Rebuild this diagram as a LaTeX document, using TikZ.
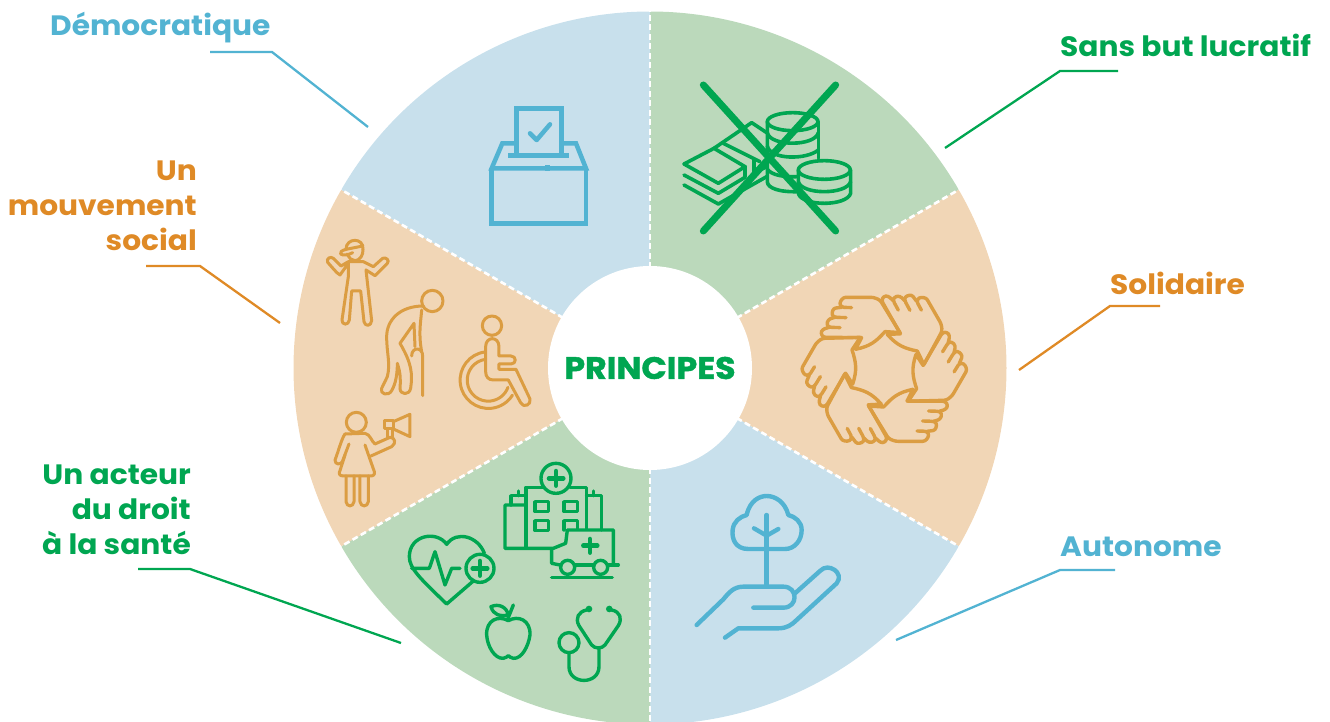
\documentclass[tikz,border=0pt]{standalone}
\usepackage{fontspec}
\setmainfont{Poppins}[FakeStretch=1.06]
\newfontfamily\centrefont{Poppins}[FakeStretch=1.07, BoldFeatures={FakeBold=1.4}]
\definecolor{secblue}{HTML}{C8E0EC}
\definecolor{secgreen}{HTML}{BBD9BB}
\definecolor{secorange}{HTML}{F1D6B6}
\definecolor{lineblue}{HTML}{52B3D2}
\definecolor{linegreen}{HTML}{00A651}
\definecolor{lineorange}{HTML}{DF8A26}
\definecolor{iconorange}{HTML}{DB9D42}
\tikzset{
  lbl/.style={font=\fontsize{28}{35}\selectfont\bfseries, inner sep=0pt, align=right},
  leader/.style={line width=2.3pt},
  icon/.style={line width=#1, line cap=round, line join=round},
  icon/.default=3pt,
  zoomed/.style={x=0.3333pt, y=-0.3333pt},
}

\begin{document}
\begin{tikzpicture}[x=1pt, y=-1pt]
  \useasboundingbox (0,0) rectangle (1330,722);

  % Wheel
  \begin{scope}[shift={(650,368)}]
    \foreach \a/\col in {-90/secgreen, -30/secorange, 30/secblue, 90/secgreen, 150/secorange, 210/secblue} {
      \fill[\col] (0,0) -- (\a:356.5) arc[start angle=\a, end angle=\a+60, radius=356.5] -- cycle;
    }
    \foreach \a in {-90, -30, 30, 90, 150, 210} {
      \draw[white, line width=2.6pt, dash pattern=on 6pt off 3.5pt] (\a:100) -- (\a:357);
    }
  \end{scope}
  \node[circle, fill=white, minimum size=204pt, inner sep=0pt, text=linegreen,
        font=\fontsize{31}{36}\selectfont\centrefont\bfseries] (centre) at (650,368) {PRINCIPES};

  % Labels
  \node[lbl, text=lineblue, anchor=base west] (democratique) at (50,36) {Démocratique};
  \node[lbl, text=linegreen, anchor=base west] (sansbut) at (1060,57) {Sans but lucratif};
  \node[lbl, text=lineorange, anchor=east] (mouvement) at (197,206) {Un\\mouvement\\social};
  \node[lbl, text=lineorange, anchor=base west] (solidaire) at (1110,294) {Solidaire};
  \node[lbl, text=linegreen, anchor=east] (acteur) at (191,510) {Un acteur\\du droit\\à la santé};
  \node[lbl, text=lineblue, anchor=base west] (autonome) at (1060,556) {Autonome};

  % Leader lines
  \coordinate (demoA) at (210,52);
  \coordinate (demoB) at (272,52);
  \coordinate (demoC) at (368,127);
  \coordinate (sansA) at (1118,71);
  \coordinate (sansB) at (1060,71);
  \coordinate (sansC) at (945,148);
  \coordinate (mouvA) at (146,266);
  \coordinate (mouvB) at (200,266);
  \coordinate (mouvC) at (280,323);
  \coordinate (soliA) at (1160,306);
  \coordinate (soliB) at (1110,306);
  \coordinate (soliC) at (1019,370);
  \coordinate (acteA) at (138,569);
  \coordinate (acteB) at (190,569);
  \coordinate (acteC) at (401,643);
  \coordinate (autoA) at (1115,570);
  \coordinate (autoB) at (1060,570);
  \coordinate (autoC) at (896,640);
  \draw[leader, lineblue] (demoA) -- (demoB) -- (demoC);
  \draw[leader, linegreen] (sansA) -- (sansB) -- (sansC);
  \draw[leader, lineorange] (mouvA) -- (mouvB) -- (mouvC);
  \draw[leader, lineorange] (soliA) -- (soliB) -- (soliC);
  \draw[leader, linegreen] (acteA) -- (acteB) -- (acteC);
  \draw[leader, lineblue] (autoA) -- (autoB) -- (autoC);

  % Ballot box
  \begin{scope}[shift={(470,90)}, zoomed, icon=4.5pt, lineblue, line cap=butt, line join=miter]
    \draw (139,190) -- (139,55) -- (274,55) -- (274,190);
    \draw (115,197) -- (298,197);
    \draw (139,160) -- (97,160) -- (65,235) -- (348,235) -- (318,160) -- (274,160);
    \draw (65,235) -- (65,400) -- (348,400) -- (348,235);
    \draw (232,226) -- (232,243);
    \draw[line cap=round, line join=round] (180,130) -- (200,150) -- (240,103);
  \end{scope}

  % Money and coins
  \begin{scope}[shift={(660,60)}, zoomed, icon=3.6pt, linegreen]
    \draw (398,185) ellipse (76 and 27);
    \draw (322,185) -- (322,365) .. controls (322,385) and (360,397) .. (415,395);
    \draw (475,185) -- (475,295);
    \draw (322,218) .. controls (330,260) and (465,260) .. (475,218);
    \draw (322,258) .. controls (330,300) and (440,300) .. (475,270);
    \draw (322,328) .. controls (335,345) and (370,352) .. (415,350);
    \draw (493,330) ellipse (78 and 28);
    \draw (415,330) -- (415,400) .. controls (425,440) and (560,440) .. (572,400) -- (572,330);
    \draw (415,365) .. controls (425,405) and (560,405) .. (572,365);
    \draw (72,312) -- (162,265) -- (255,320) -- (175,370) -- cycle;
    \draw (162,265) -- (275,188) -- (320,218);
    \draw (190,250) -- (300,305);
    \draw (255,320) -- (255,350);
    \draw (282,300) -- (282,340) -- (320,320);
    \draw (72,345) -- (175,400) -- (255,352);
    \draw (72,375) -- (175,432) -- (320,350);
    \draw[line width=7pt] (130,75) -- (527,513);
    \draw[line width=7pt] (527,75) -- (130,513);
  \end{scope}

  % Hands
  \foreach \r in {0,60,...,300} {
    \begin{scope}[shift={(884.3,369.3)}, rotate=\r, icon=3.4pt, iconorange, rounded corners=2.5pt]
      \draw (15.7,-36.7) -- (-4.3,-69.3) -- (-11,-72) -- (-41,-72) -- (-45,-66) -- (-42.7,-62) -- (-32.7,-61.7);
      \draw (-42.7,-62) -- (-51,-61) -- (-52.7,-54) -- (-49.3,-52) -- (-38.3,-51.7);
      \draw (-49.3,-52) -- (-56,-50) -- (-57.7,-44.3) -- (-55,-42) -- (-44.3,-41.7);
      \draw (-55,-42) -- (-61.7,-40) -- (-63.7,-36) -- (-61,-32) -- (-22.7,-31.7);
      \draw[sharp corners] (-22.7,-31.7) -- (-28.7,-20) .. controls (-14,-23) and (-8,-28) .. (0.7,-37.7) -- (15.7,-36.7);
    \end{scope}
  }

  % Kid with cap
  \begin{scope}[shift={(310,230)}, zoomed, icon=3pt, iconorange]
    \draw (112,72) .. controls (118,85) and (125,92) .. (135,92) .. controls (150,92) and (160,75) .. (159,58);
    \draw (108,58) .. controls (108,22) and (162,22) .. (159,58);
    \draw (92,72) .. controls (88,66) and (95,62) .. (108,58) -- (158,48);
    \draw (92,72) .. controls (100,78) and (115,75) .. (128,68);
    \draw (115,100) -- (90,135) .. controls (80,130) and (65,110) .. (53,97) .. controls (48,85) and (62,78) .. (70,85) -- (93,108) -- (115,95) -- (160,95) -- (190,110) -- (218,85) .. controls (228,80) and (240,92) .. (232,100) -- (195,137) -- (168,120) -- (185,272) .. controls (183,290) and (165,290) .. (162,275) -- (152,183) -- (125,183) -- (118,270) .. controls (115,288) and (95,285) .. (96,270) -- (115,140) -- (115,100);

    % Bent old man
    \draw (367,213) circle (32);
    \draw (340,228) .. controls (270,228) and (230,270) .. (230,320) .. controls (230,370) and (242,400) .. (232,440) -- (215,475) .. controls (208,492) and (235,500) .. (245,482) .. controls (258,460) and (262,430) .. (262,400) .. controls (272,430) and (272,450) .. (270,475) .. controls (270,495) and (298,497) .. (302,475) .. controls (308,430) and (305,400) .. (270,340) -- (312,280) -- (315,350);
    \draw (335,240) .. controls (332,280) and (325,310) .. (335,365);
    \draw (305,378) .. controls (305,350) and (338,350) .. (338,378) -- (338,497);

    % Person in wheelchair
    \draw (546,287) circle (29);
    \draw (527,350) .. controls (527,318) and (567,318) .. (567,350) -- (567,378) -- (603,378) .. controls (620,378) and (620,402) .. (603,402) -- (567,402) -- (567,418) -- (618,418) -- (660,507) .. controls (665,525) and (640,535) .. (632,518) -- (595,450) -- (550,450) .. controls (535,450) and (527,440) .. (527,425) -- cycle;
    \draw (525,366) arc[start angle=-97, end angle=-328, radius=85];
    \draw (527,388) arc[start angle=-97, end angle=-340, radius=63];

    % Woman with megaphone
    \draw (139,577) circle (30);
    \draw (105,612) -- (165,610) .. controls (180,612) and (185,635) .. (195,642) -- (240,622) .. controls (255,622) and (260,640) .. (245,650) -- (183,678);
    \draw (105,612) .. controls (95,625) and (85,665) .. (75,690) .. controls (75,705) and (92,705) .. (97,695) -- (117,642);
    \draw (165,645) -- (193,725) .. controls (195,735) and (190,738) .. (180,738) -- (100,738) .. controls (88,738) and (85,730) .. (90,722) -- (105,675);
    \draw (108,738) -- (108,815) .. controls (110,832) and (130,832) .. (132,815) -- (132,738);
    \draw (150,738) -- (150,815) .. controls (152,832) and (173,832) .. (175,815) -- (175,738);
    \draw (225,572) -- (250,572) -- (250,597) -- (225,597) -- cycle;
    \draw (250,575) -- (300,553) -- (300,620) -- (250,597);
    \draw (232,597) -- (232,622);
    \draw (248,597) -- (248,622);
  \end{scope}

  % Hospital and ambulance
  \begin{scope}[shift={(400,455)}, zoomed, icon=3.4pt, linegreen]
    \draw (468,70) circle (45);
    \draw[line width=4.5pt] (468,48) -- (468,92);
    \draw[line width=4.5pt] (447,70) -- (490,70);
    \draw (378,278) -- (378,97) -- (428,97);
    \draw (510,97) -- (560,97) -- (560,222);
    \draw (378,150) -- (315,150) -- (315,280) -- (460,280) -- (497,265) -- (502,225) -- (640,225) -- (640,330);
    \draw (333,150) -- (333,122) -- (378,122);
    \draw (355,122) -- (355,108);
    \draw (560,122) -- (605,122) -- (605,225);
    \draw (580,122) -- (580,108);
    \draw (405,140) rectangle (445,170);
    \draw (492,140) rectangle (532,170);
    \draw (405,197) rectangle (445,227);
    \draw (502,197) -- (492,197) -- (492,225);
    \draw (502,197) -- (532,197) -- (532,222);
    \draw (455,282) -- (455,325) -- (480,330);
    \draw (525,330) -- (580,330);
    \draw (625,330) -- (655,330);
    \draw (503,337) circle (21);
    \draw (602,337) circle (21);
    \draw (455,367) -- (637,367);
    \draw[line width=4.5pt] (570,252) -- (570,293);
    \draw[line width=4.5pt] (550,272) -- (592,272);

    % Heart
    \draw (240,340) circle (42);
    \draw[line width=4.5pt] (240,318) -- (240,362);
    \draw[line width=4.5pt] (218,340) -- (262,340);
    \draw (253,295) .. controls (235,245) and (170,225) .. (140,268) .. controls (110,225) and (28,240) .. (28,305) .. controls (28,340) and (60,370) .. (140,447) -- (220,378);
    \draw (35,340) -- (88,340) -- (105,290) -- (135,390) -- (155,340) -- (180,340);

    % Apple
    \draw (325,497) .. controls (355,480) and (392,495) .. (390,540) .. controls (385,575) and (365,612) .. (340,610) .. controls (332,610) and (328,603) .. (325,602) .. controls (322,603) and (318,610) .. (310,610) .. controls (285,612) and (262,575) .. (260,540) .. controls (258,495) and (295,480) .. (325,497);
    \draw (322,495) -- (340,450);
    \draw (273,455) .. controls (295,445) and (320,455) .. (325,480) .. controls (300,485) and (280,480) .. (273,455) -- cycle;

    % Stethoscope
    \fill (567,462) circle (10);
    \fill (628,462) circle (10);
    \draw (560,465) .. controls (535,470) and (525,490) .. (537,512) -- (575,570) .. controls (585,582) and (605,582) .. (615,570) -- (655,512) .. controls (668,490) and (660,470) .. (635,465);
    \draw (597,580) -- (597,635) .. controls (597,690) and (507,690) .. (507,635) -- (507,593);
    \draw (507,563) circle (30);
  \end{scope}

  % Tree in hand
  \begin{scope}[shift={(680,485)}, zoomed, icon=4.4pt, lineblue]
    \draw (205,192) .. controls (165,192) and (155,160) .. (158,135) .. controls (160,110) and (180,95) .. (200,90) .. controls (210,45) and (240,33) .. (260,33) .. controls (285,33) and (315,50) .. (325,90) .. controls (345,95) and (365,110) .. (365,135) .. controls (365,165) and (345,192) .. (315,192) -- cycle;
    \draw (260,90) -- (260,305);
    \draw (222,130) -- (260,152) -- (295,132);
    \draw (50,420) -- (130,343) .. controls (145,325) and (160,305) .. (190,305) -- (310,305) .. controls (355,305) and (355,368) .. (310,368) -- (220,368);
    \draw (345,325) -- (420,258) .. controls (445,230) and (495,265) .. (470,295) -- (350,405) .. controls (335,420) and (320,430) .. (295,430) -- (175,430) -- (135,458);
  \end{scope}
\end{tikzpicture}
\end{document}
